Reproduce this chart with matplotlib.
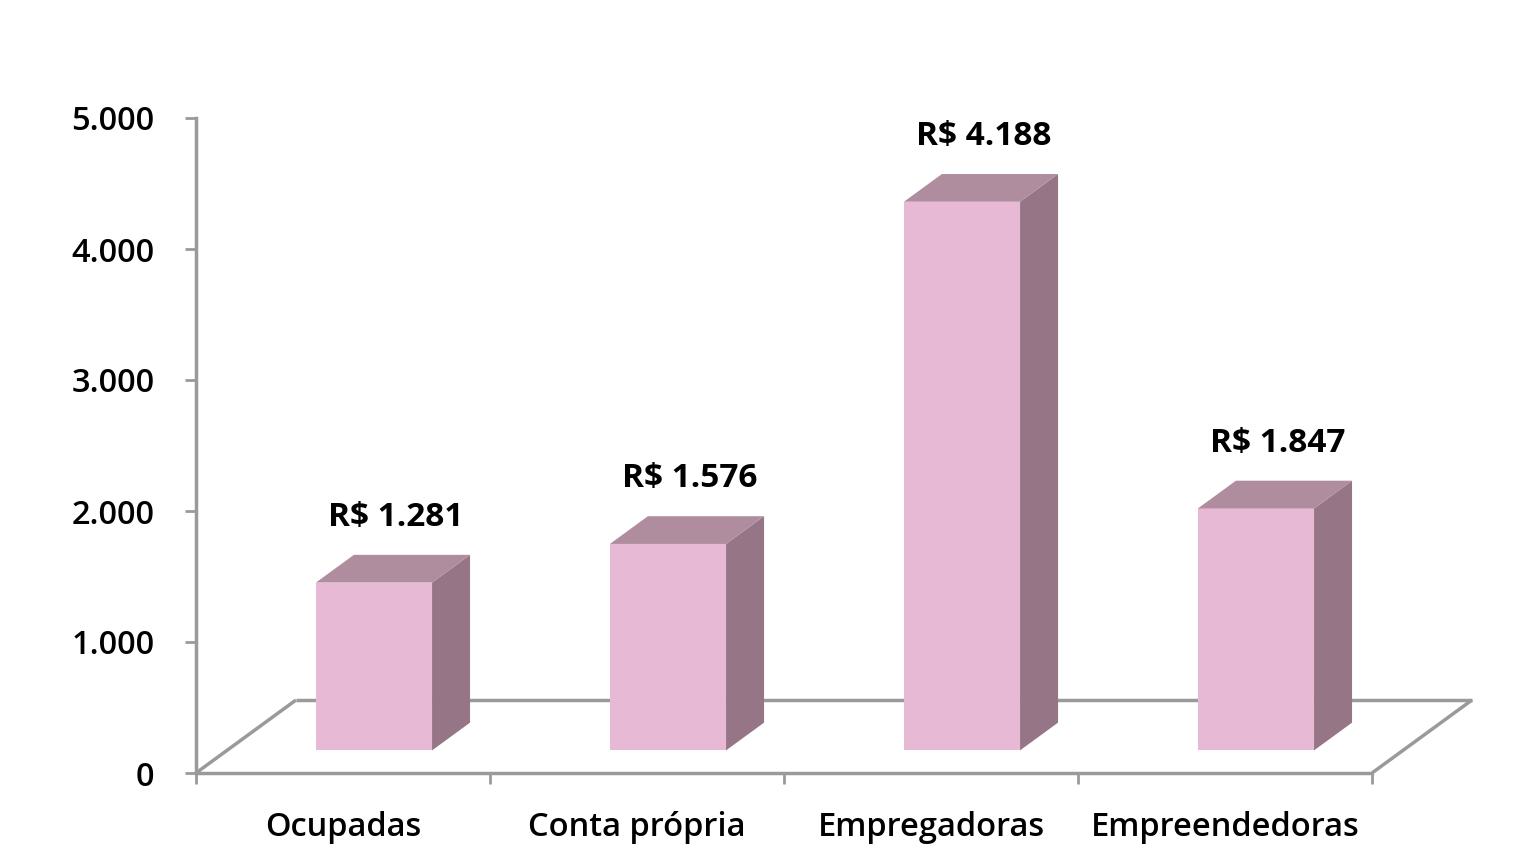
import numpy as np
import matplotlib
matplotlib.use('Agg')
import matplotlib.pyplot as plt
from matplotlib.patches import Polygon

categories = ['Ocupadas', 'Conta própria', 'Empregadoras', 'Empreendedoras']
values = [1281, 1576, 4188, 1847]
value_labels = ['R$ 1.281', 'R$ 1.576', 'R$ 4.188', 'R$ 1.847']
yticks = [0, 1000, 2000, 3000, 4000, 5000]
ytick_labels = ['0', '1.000', '2.000', '3.000', '4.000', '5.000']

plt.rcParams['font.family'] = ['Open Sans', 'DejaVu Sans']

W, H = 1526, 867
fig = plt.figure(figsize=(W / 100, H / 100), dpi=100)
# axes placed in pixel terms: y=0 at 773px, y=5000 at 118px, x=0 at 196px
x0, x1, y0, y1 = 196, 1500, 773, 118
ax = fig.add_axes([x0 / W, (H - y0) / H, (x1 - x0) / W, (y0 - y1) / H])
ax.set_xlim(0, (x1 - x0) / 294)
ax.set_ylim(0, 5000)

grey = '#9a9a9a'
front_c = '#e8b9d4'
top_c = '#b08c9f'
side_c = '#967686'

# 3D-like depth offsets (data units)
DX, DY = 0.34, 557
d0, dd = 0.31, 0.38
bw = 0.395

# floor
floor_kw = dict(color=grey, lw=2.5, zorder=1, solid_capstyle='butt')
n = len(categories)
ax.plot([0, DX], [0, DY], **floor_kw)
ax.plot([DX, n + DX], [DY, DY], **floor_kw)
ax.plot([n, n + DX], [0, DY], **floor_kw)

for i, (v, lab) in enumerate(zip(values, value_labels)):
    xl = i + 0.5 + d0 * DX - bw / 2
    xr = xl + bw
    yb = d0 * DY
    yt = yb + v
    ox, oy = dd * DX, dd * DY
    ax.add_patch(Polygon([(xl, yb), (xr, yb), (xr, yt), (xl, yt)],
                         closed=True, fc=front_c, ec='none', zorder=3))
    ax.add_patch(Polygon([(xr, yb), (xr + ox, yb + oy), (xr + ox, yt + oy), (xr, yt)],
                         closed=True, fc=side_c, ec='none', zorder=3))
    ax.add_patch(Polygon([(xl, yt), (xr, yt), (xr + ox, yt + oy), (xl + ox, yt + oy)],
                         closed=True, fc=top_c, ec='none', zorder=3))
    ax.text((xl + xr + ox) / 2 + 0.01, yt + oy + 285, lab, ha='center', va='center',
            fontsize=24, fontweight='bold', color='black', clip_on=False)

# axes styling
for s in ['top', 'right']:
    ax.spines[s].set_visible(False)
ax.spines['left'].set_color(grey)
ax.spines['bottom'].set_color(grey)
ax.spines['left'].set_linewidth(2.5)
ax.spines['bottom'].set_linewidth(2.5)
ax.spines['bottom'].set_bounds(0, n)
ax.spines['left'].set_bounds(0, 5000)
ax.set_yticks(yticks)
ax.set_yticklabels(ytick_labels)
ax.set_xticks(np.arange(n + 1))
ax.set_xticklabels([])
ax.set_xticks(np.arange(n) + 0.5, minor=True)
ax.set_xticklabels(categories, minor=True)
ax.tick_params(axis='y', length=8, width=2, color=grey, pad=22, labelsize=23.5)
ax.tick_params(axis='x', which='major', length=8, width=2, color=grey)
ax.tick_params(axis='x', which='minor', length=0, pad=27, labelsize=23.5)
for t in ax.get_xticklabels(minor=True) + ax.get_yticklabels():
    t.set_fontweight('semibold')

fig.savefig('out.png', dpi=100)
